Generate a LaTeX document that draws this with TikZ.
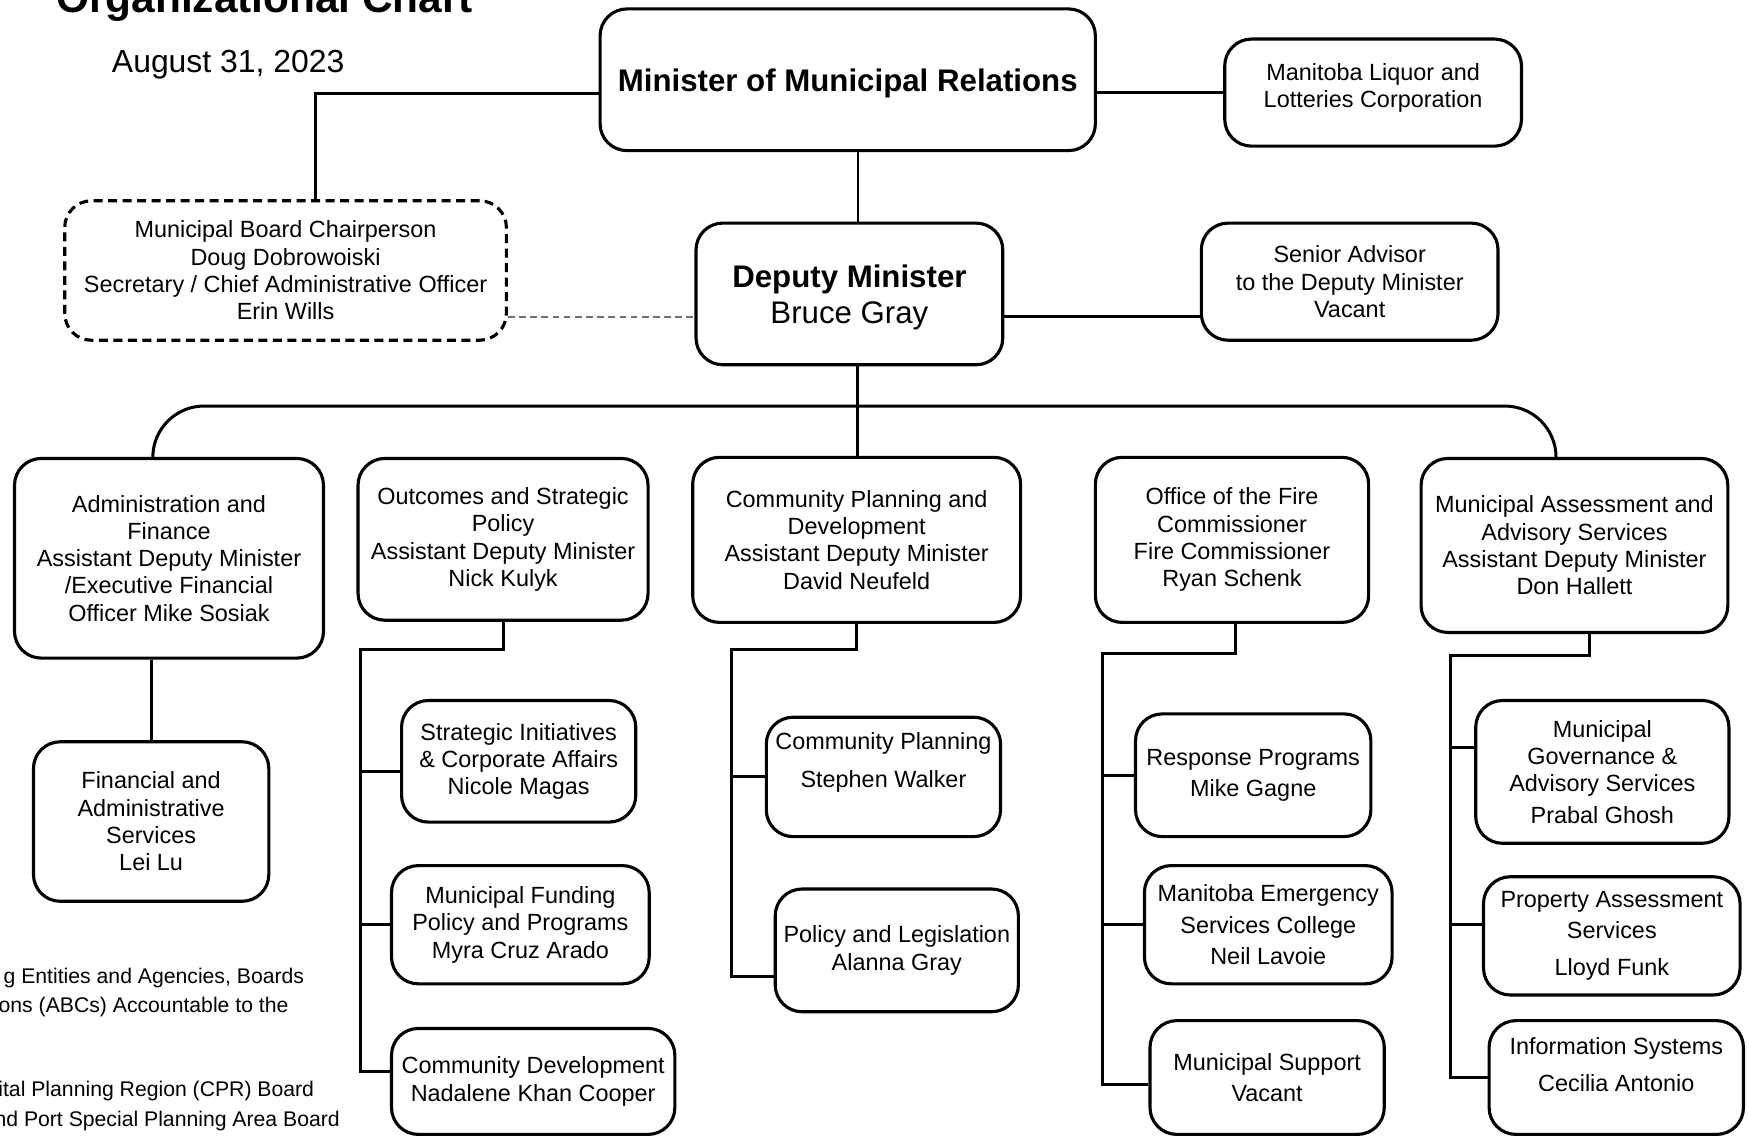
\documentclass[tikz,border=0pt]{standalone}
\usepackage{fontspec}
\setmainfont{Liberation Sans}
\usepackage{xcolor}
\definecolor{dashgray}{HTML}{707070}

\begin{document}
\begin{tikzpicture}[
    x=0.5pt, y=-0.5pt,
    unit/.style={rectangle, rounded corners=12pt, draw=black, line width=1.4pt, fill=white, align=center, inner sep=0pt, font=\fontsize{10.5}{12.25}\selectfont},
    wideunit/.style={unit, font=\fontsize{10.5}{14}\selectfont},
    boardunit/.style={unit, dashed, dash pattern=on 4pt off 2.5pt},
    topunit/.style={unit, text depth=0pt, font=\fontsize{14}{16}\selectfont},
    link/.style={draw, line width=1.35pt},
    dotlink/.style={draw, line width=0.8pt, color=dashgray, dash pattern=on 3pt off 2pt},
    note/.style={anchor=base east, inner sep=0pt, font=\fontsize{9.5}{13}\selectfont}
]
\useasboundingbox (0,0) rectangle (1568,1019);

\node [anchor=base west, inner sep=0pt, font=\fontsize{19}{22}\selectfont\bfseries] (title) at (50,11) {Organizational Chart};
\node [anchor=base west, inner sep=0pt, font=\fontsize{14.3}{17}\selectfont] (date) at (100,65) {August 31, 2023};

% minister and deputy
\node [topunit, minimum width=222pt, minimum height=63.5pt] (minister) at (760,71.5) {\textbf{Minister of Municipal Relations}};
\node [unit, minimum width=133pt, minimum height=48pt] (liquor) at (1231,83) {Manitoba Liquor and\\Lotteries Corporation\\[-6pt]\mbox{}};
\node [boardunit, minimum width=198pt, minimum height=62.5pt] (board) at (256,242.5) {Municipal Board Chairperson\\Doug Dobrowoiski\\Secretary / Chief Administrative Officer\\Erin Wills};
\node [topunit, minimum width=137.5pt, minimum height=63.5pt] (dm) at (761.5,263.5) {\textbf{Deputy Minister}\\Bruce Gray};
\node [unit, minimum width=133pt, minimum height=52.5pt] (advisor) at (1210,252.5) {Senior Advisor\\to the Deputy Minister\\Vacant};

% divisions
\node [unit, minimum width=138.5pt, minimum height=89.5pt] (adminfin) at (151.5,500.5) {Administration and\\Finance\\Assistant Deputy Minister\\/Executive Financial\\Officer Mike Sosiak};
\node [unit, minimum width=130pt, minimum height=72.5pt] (outcomes) at (451,483.5) {Outcomes and Strategic\\Policy\\Assistant Deputy Minister\\Nick Kulyk};
\node [unit, minimum width=147pt, minimum height=74pt] (cpd) at (768,484) {Community Planning and\\Development\\Assistant Deputy Minister\\David Neufeld};
\node [unit, minimum width=122.5pt, minimum height=74pt] (fire) at (1104.5,484) {Office of the Fire\\Commissioner\\Fire Commissioner\\Ryan Schenk};
\node [unit, minimum width=137.5pt, minimum height=78pt] (maas) at (1411.5,489) {Municipal Assessment and\\Advisory Services\\Assistant Deputy Minister\\Don Hallett};

% branches
\node [unit, minimum width=105.5pt, minimum height=71.5pt] (finadmin) at (135.5,736.5) {Financial and\\Administrative\\Services\\Lei Lu};
\node [unit, minimum width=105pt, minimum height=54.5pt] (strat) at (465,682.5) {Strategic Initiatives\\\& Corporate Affairs\\Nicole Magas};
\node [unit, minimum width=115.5pt, minimum height=53pt] (funding) at (466.5,829) {Municipal Funding\\Policy and Programs\\Myra Cruz Arado};
\node [unit, minimum width=127pt, minimum height=47.5pt] (commdev) at (478,969.5) {Community Development\\Nadalene Khan Cooper};
\node [unit, minimum width=105pt, minimum height=53.5pt] (commplan) at (792,696.5) {Community Planning\\[4.5pt]Stephen Walker\\[3pt]\mbox{}};
\node [unit, minimum width=109pt, minimum height=55pt] (policy) at (804,852) {Policy and Legislation\\Alanna Gray};
\node [wideunit, minimum width=105.5pt, minimum height=55pt] (resp) at (1123.5,695) {Response Programs\\Mike Gagne};
\node [wideunit, minimum width=111pt, minimum height=53pt] (mesc) at (1137,829) {Manitoba Emergency\\Services College\\Neil Lavoie};
\node [wideunit, minimum width=105pt, minimum height=51pt] (msupp) at (1136,966) {Municipal Support\\Vacant};
\node [unit, minimum width=113.5pt, minimum height=64pt] (gov) at (1436.5,692) {Municipal\\Governance \&\\Advisory Services\\[2pt]Prabal Ghosh};
\node [wideunit, minimum width=115pt, minimum height=53pt] (property) at (1445,839) {Property Assessment\\Services\\[2.5pt]Lloyd Funk};
\node [wideunit, minimum width=114pt, minimum height=51pt] (infosys) at (1449,966) {Information Systems\\[2.5pt]Cecilia Antonio\\[-2.5pt]\mbox{}};

% notes
\node [note] (abcs) at (273,882) {g Entities and Agencies, Boards};
\node [note] (abcsb) at (259,908) {ons (ABCs) Accountable to the};
\node [note] (cpr) at (282,983) {ital Planning Region (CPR) Board};
\node [note] (port) at (305,1010) {nd Port Special Planning Area Board};

% spine points
\coordinate (hub) at (769,364);
\coordinate (dmrow) at (769,284);
\coordinate (ospine) at (323,582);
\coordinate (cspine) at (656,582);
\coordinate (fspine) at (988,586);
\coordinate (mspine) at (1300,588);
\path ([yshift=-4.75pt]strat.west) coordinate (stratin)
      ([yshift=-3pt]msupp.west) coordinate (msuppin)
      ([yshift=11pt]gov.west) coordinate (govin)
      ([yshift=5pt]property.west) coordinate (propin);

\draw [link] ([yshift=-6.25pt]minister.west) -| ([xshift=13.5pt]board.north);
\draw [link] (minister.east |- liquor.west) -- (liquor.west);
\draw [link, line width=0.9pt] (minister.south -| hub) -- (dm.north -| hub);
\draw [dotlink] (board.east |- dmrow) -- (dm.west |- dmrow);
\draw [link] (dm.east |- dmrow) -- (advisor.west |- dmrow);
\draw [link] (dm.south -| hub) -- (cpd.north -| hub);
\draw [link, rounded corners=23pt] ([xshift=-7.25pt]adminfin.north) |- (hub) -| ([xshift=-8.25pt]maas.north);

\draw [link] (finadmin.north |- adminfin.south) -- (finadmin.north);

\draw [link] (outcomes.south) |- (ospine) |- ([yshift=4.25pt]commdev.west);
\draw [link] (ospine |- stratin) -- (stratin);
\draw [link] (ospine |- funding.west) -- (funding.west);

\draw [link] (cpd.south) |- (cspine) |- ([yshift=-11.5pt]policy.west);
\draw [link] (cspine |- commplan.west) -- (commplan.west);

\draw [link] ([xshift=1.75pt]fire.south) |- (fspine) |- (msuppin);
\draw [link] (fspine |- resp.west) -- (resp.west);
\draw [link] (fspine |- mesc.west) -- (mesc.west);

\draw [link] ([xshift=6.75pt]maas.south) |- (mspine) |- (infosys.west);
\draw [link] (mspine |- govin) -- (govin);
\draw [link] (mspine |- propin) -- (propin);

\end{tikzpicture}
\end{document}
